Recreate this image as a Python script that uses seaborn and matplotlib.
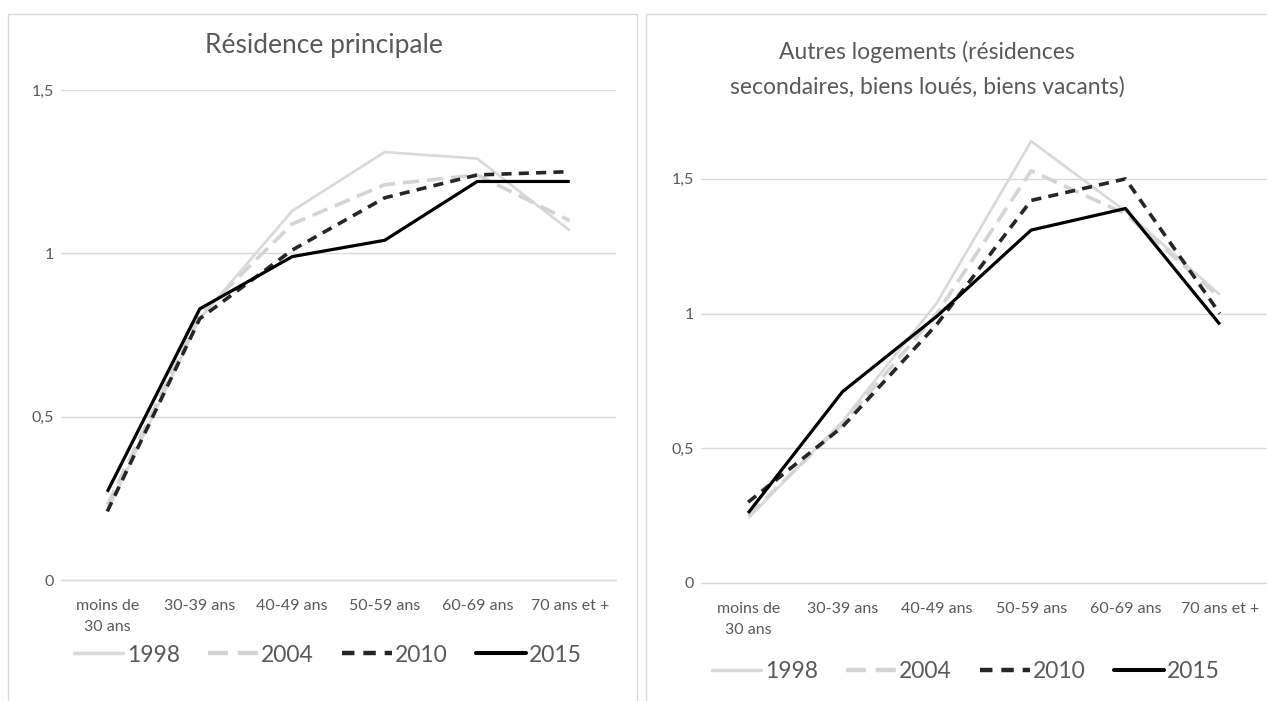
import pandas as pd
import matplotlib.pyplot as plt
import seaborn as sns
from matplotlib.patches import Rectangle
from matplotlib.lines import Line2D

# categories and series
ages = ['moins de\n30 ans', '30-39 ans', '40-49 ans', '50-59 ans', '60-69 ans', '70 ans et +']
years = ['1998', '2004', '2010', '2015']

princ_1998 = [0.21, 0.80, 1.13, 1.31, 1.29, 1.07]
princ_2004 = [0.23, 0.81, 1.09, 1.21, 1.24, 1.10]
princ_2010 = [0.21, 0.80, 1.01, 1.17, 1.24, 1.25]
princ_2015 = [0.27, 0.83, 0.99, 1.04, 1.22, 1.22]

autres_1998 = [0.24, 0.60, 1.04, 1.64, 1.38, 1.07]
autres_2004 = [0.25, 0.59, 1.00, 1.53, 1.37, 1.06]
autres_2010 = [0.30, 0.58, 0.96, 1.42, 1.50, 1.00]
autres_2015 = [0.26, 0.71, 0.99, 1.31, 1.39, 0.96]

sns.set_theme(style='white')
plt.rcParams['font.family'] = ['Lato', 'DejaVu Sans']

grey_txt = '#595959'
styles = {
    '1998': dict(color='#d9d9d9', lw=1.9, dashes=None),
    '2004': dict(color='#d4d4d4', lw=2.6, dashes=(4.5, 2.2)),
    '2010': dict(color='#262626', lw=2.6, dashes=(2.8, 2.0)),
    '2015': dict(color='#000000', lw=2.3, dashes=None),
}


def long_df(series):
    rows = []
    for yr, vals in zip(years, series):
        for a, v in zip(ages, vals):
            rows.append({'age': a, 'val': v, 'annee': yr})
    return pd.DataFrame(rows)


def draw(ax, df, ymax):
    for yr in years:
        st = styles[yr]
        sub = df[df['annee'] == yr]
        sns.lineplot(data=sub, x='age', y='val', ax=ax, sort=False,
                     color=st['color'], linewidth=st['lw'], legend=False)
        l = ax.lines[-1]
        if st['dashes']:
            l.set_dashes(st['dashes'])
        l.set_solid_capstyle('butt')
        l.set_dash_capstyle('butt')
    ax.set_xlim(-0.5, len(ages) - 0.5)
    ax.set_ylim(0, ymax)
    ax.set_yticks([0, 0.5, 1, 1.5])
    ax.set_yticklabels(['0', '0,5', '1', '1,5'])
    ax.yaxis.grid(True, color='#d9d9d9', lw=1)
    ax.set_axisbelow(True)
    for s in ['top', 'right', 'left']:
        ax.spines[s].set_visible(False)
    ax.spines['bottom'].set_color('#d9d9d9')
    ax.spines['bottom'].set_linewidth(1)
    ax.set_xticks(range(len(ages)))
    ax.set_xticklabels(ages)
    ax.set_xticks([i - 0.5 for i in range(len(ages) + 1)], minor=True)
    ax.tick_params(axis='x', which='major', length=0, pad=14, labelsize=11.5, labelcolor=grey_txt)
    ax.tick_params(axis='x', which='minor', length=7, width=1, color='#d9d9d9', direction='inout')
    ax.tick_params(axis='y', length=0, pad=5, labelsize=11.5, labelcolor=grey_txt)
    ax.set_xlabel('')
    ax.set_ylabel('')
    for lab in ax.get_xticklabels():
        lab.set_linespacing(1.6)


fig = plt.figure(figsize=(12.67, 7.01), dpi=100)

# panel frames
fig.patches.append(Rectangle((8 / 1267, -0.01), 629 / 1267, 1 - 14 / 701 + 0.01,
                             transform=fig.transFigure, fill=False, ec='#d9d9d9', lw=1))
fig.patches.append(Rectangle((646 / 1267, -0.01), 630 / 1267, 1 - 14 / 701 + 0.01,
                             transform=fig.transFigure, fill=False, ec='#d9d9d9', lw=1))

ax1 = fig.add_axes([61 / 1267, 121 / 701, 555 / 1267, 490 / 701])
ax2 = fig.add_axes([701 / 1267, 118 / 701, 566 / 1267, 458 / 701])

draw(ax1, long_df([princ_1998, princ_2004, princ_2010, princ_2015]), 1.5)
draw(ax2, long_df([autres_1998, autres_2004, autres_2010, autres_2015]), 1.7)

fig.text(324 / 1267, 1 - 46 / 701, 'Résidence principale', ha='center', va='center',
         fontsize=19, color=grey_txt)
fig.text(927 / 1267, 1 - 69 / 701, 'Autres logements (résidences\nsecondaires, biens loués, biens vacants)',
         ha='center', va='center', fontsize=16.5, color=grey_txt, linespacing=1.75)

handles = []
for yr in years:
    st = styles[yr]
    h = Line2D([], [], color=st['color'], lw=st['lw'] + 0.6)
    if st['dashes']:
        h.set_dashes(st['dashes'])
    handles.append(h)

for ax, cx, cy in [(ax1, 328, 655), (ax2, 966, 672)]:
    fig.legend(handles, years, loc='center', bbox_to_anchor=(cx / 1267, 1 - cy / 701),
               ncol=4, frameon=False, fontsize=16.5, handlelength=2.15, handletextpad=0.15,
               columnspacing=1.25, labelcolor=grey_txt)

fig.savefig('out.png', dpi=100)
